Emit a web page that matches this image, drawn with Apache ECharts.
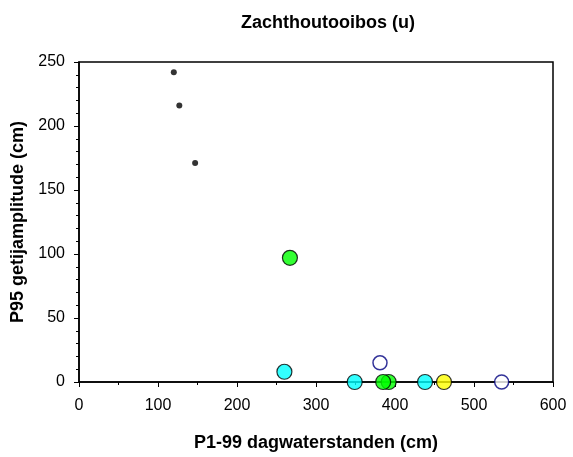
<!DOCTYPE html>
<html>
<head>
<meta charset="utf-8">
<script src="https://cdn.jsdelivr.net/npm/echarts@6/dist/echarts.min.js"></script>
<style>
  html, body { margin: 0; padding: 0; background: #fff; }
  #chart { width: 573px; height: 457px; }
</style>
</head>
<body>
<div id="chart"></div>
<script>
// Measurements per station class: [P1-99 daily water levels (cm), P95 tidal amplitude (cm)]
const blackDots = [[120, 242], [127, 216], [147, 171]];
const greenPts  = [[267, 97], [392, 0], [385, 0]];
const cyanPts   = [[260, 8], [349, 0], [438, 0]];
const yellowPts = [[462, 0]];
const openPts   = [[381, 15], [535, 0]];

const xTicks = [0, 100, 200, 300, 400, 500, 600];
const yTicks = [0, 50, 100, 150, 200, 250];

const FONT = '"Liberation Sans", Arial, sans-serif';

function bigDots(data, color) {
  return {
    type: 'scatter', data, symbol: 'circle', symbolSize: 15, clip: false,
    itemStyle: { color, borderColor: '#000', borderWidth: 1.2 }
  };
}

const chart = echarts.init(document.getElementById('chart'), null, { renderer: 'canvas' });
chart.setOption({
  animation: false,
  backgroundColor: '#fff',
  title: {
    text: 'Zachthoutooibos (u)',
    left: 323, top: 9, textAlign: 'center',
    textStyle: { fontFamily: FONT, fontWeight: 'bold', fontSize: 18, color: '#000' }
  },
  grid: {
    left: 79, right: 20, top: 62, bottom: 75,
    show: true, borderColor: '#000', borderWidth: 1.5, backgroundColor: 'transparent'
  },
  xAxis: {
    type: 'value', min: xTicks[0], max: xTicks[xTicks.length - 1], interval: 100,
    name: 'P1-99 dagwaterstanden (cm)', nameLocation: 'middle', nameGap: 52,
    nameTextStyle: { fontFamily: FONT, fontWeight: 'bold', fontSize: 18, color: '#000' },
    axisLine: { lineStyle: { color: '#000', width: 1.5 } },
    axisTick: { length: 5, lineStyle: { color: '#000' } },
    minorTick: { show: true, splitNumber: 2, length: 3, lineStyle: { color: '#000' } },
    splitLine: { show: false },
    axisLabel: { fontFamily: FONT, fontSize: 16, color: '#000', margin: 16 }
  },
  yAxis: {
    type: 'value', min: yTicks[0], max: yTicks[yTicks.length - 1], interval: 50,
    name: 'P95 getijamplitude (cm)', nameLocation: 'middle', nameGap: 52, nameRotate: 90,
    nameTextStyle: { fontFamily: FONT, fontWeight: 'bold', fontSize: 18, color: '#000' },
    axisLine: { lineStyle: { color: '#000', width: 1.5 } },
    axisTick: { length: 5, lineStyle: { color: '#000' } },
    minorTick: { show: true, splitNumber: 5, length: 3, lineStyle: { color: '#000' } },
    splitLine: { show: false },
    axisLabel: { fontFamily: FONT, fontSize: 16, color: '#000', margin: 14 }
  },
  series: [
    {
      type: 'scatter', data: blackDots, symbol: 'circle', symbolSize: 6, clip: false,
      itemStyle: { color: '#000' }
    },
    bigDots(greenPts, '#00ff00'),
    bigDots(cyanPts, '#00ffff'),
    bigDots(yellowPts, '#ffff00'),
    {
      type: 'scatter', data: openPts, symbol: 'circle', symbolSize: 14, clip: false,
      itemStyle: { color: '#fff', borderColor: '#000080', borderWidth: 1.5 }
    }
  ]
});
</script>
</body>
</html>
